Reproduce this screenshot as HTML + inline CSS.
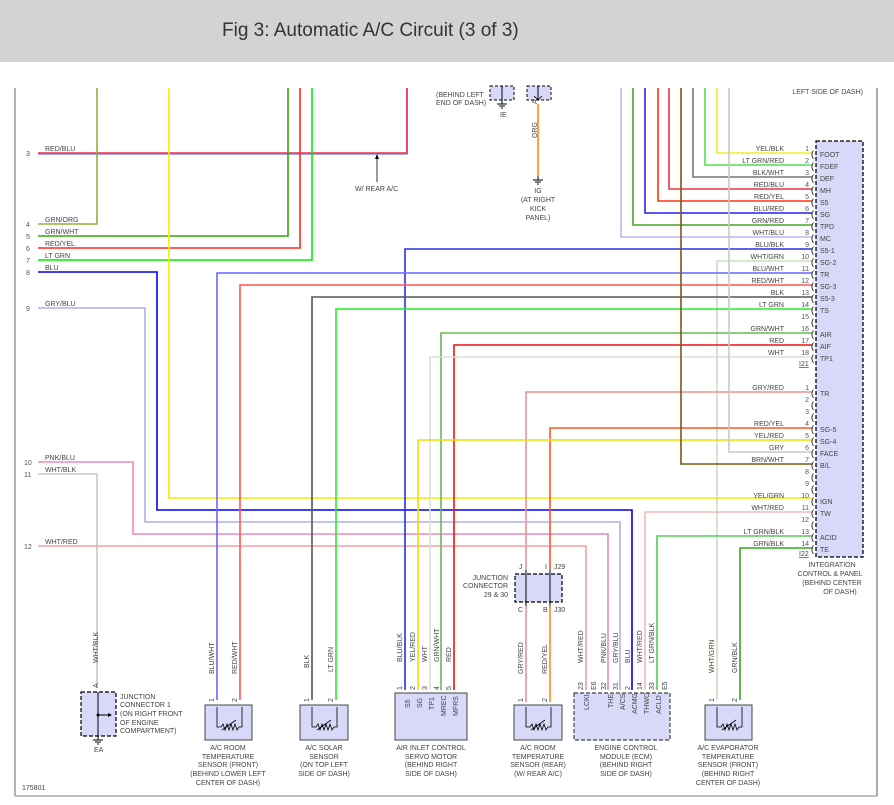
<!DOCTYPE html>
<html><head><meta charset="utf-8"><style>
html,body{margin:0;padding:0;background:#fff;width:894px;height:805px;overflow:hidden}
svg{display:block;font-family:"Liberation Sans",Arial,sans-serif}
.t{font-size:7px;fill:#444}
.n{font-size:7px;fill:#555}
.w{fill:none;stroke-width:1.6}
</style></head><body>
<svg width="894" height="805" viewBox="0 0 894 805">
<rect x="0" y="0" width="894" height="62" fill="#d3d3d3"/>
<text x="222" y="36" font-size="19" fill="#333">Fig 3: Automatic A/C Circuit (3 of 3)</text>
<!-- frame -->
<line x1="15" y1="88" x2="15" y2="796" stroke="#999" stroke-width="1.5"/>
<line x1="15" y1="796" x2="877" y2="796" stroke="#aaa" stroke-width="1.5"/>
<line x1="877" y1="88" x2="877" y2="796" stroke="#555" stroke-width="1"/>

<!-- left wires -->
<polyline class="w" stroke="#8c8cff" points="38,154 407,154 407,88"/>
<polyline class="w" stroke="#ee3344" stroke-width="1" points="38,153 407,153 407,88"/>
<polyline class="w" stroke="#8db33a" points="38,224 97,224 97,88"/>
<polyline class="w" stroke="#33aa00" points="38,236 288,236 288,88"/>
<polyline class="w" stroke="#ff2a1a" points="38,248 300,248 300,88"/>
<polyline class="w" stroke="#00ee00" points="38,260 312,260 312,88"/>
<polyline class="w" stroke="#0000ee" points="38,272 157,272 157,510 632,510 632,690"/>
<polyline class="w" stroke="#b0b0e8" points="38,308 145,308 145,522 620,522 620,690"/>
<polyline class="w" stroke="#ee88bb" points="38,462 133,462 133,534 608,534 608,690"/>
<polyline class="w" stroke="#c8c8c8" points="38,474 97,474 97,688"/>
<polyline class="w" stroke="#f0a0a0" stroke-width="1.2" points="38,546 586,546 586,690"/>
<polyline class="w" stroke="#f0f000" points="169,88 169,498 812,498"/>

<!-- right verticals I21 -->
<polyline class="w" stroke="#eeee22" points="717,88 717,153 812,153"/>
<polyline class="w" stroke="#55dd55" points="705,88 705,165 812,165"/>
<polyline class="w" stroke="#777" points="693,88 693,177 812,177"/>
<polyline class="w" stroke="#ee3344" points="669,88 669,189 812,189"/>
<polyline class="w" stroke="#ff3311" points="658,88 658,201 812,201"/>
<polyline class="w" stroke="#2222ee" points="645,88 645,213 812,213"/>
<polyline class="w" stroke="#44aa22" points="633,88 633,225 812,225"/>
<polyline class="w" stroke="#b8b8ee" points="621,88 621,237 812,237"/>
<polyline class="w" stroke="#2233dd" points="405,690 405,249 812,249"/>
<polyline class="w" stroke="#c8e0c0" points="717,700 717,261 812,261"/>
<polyline class="w" stroke="#6666ff" points="217,700 217,273 812,273"/>
<polyline class="w" stroke="#ff5555" points="240,700 240,285 812,285"/>
<polyline class="w" stroke="#555" points="312,700 312,297 812,297"/>
<polyline class="w" stroke="#22ee22" points="336,700 336,309 812,309"/>
<polyline class="w" stroke="#66bb55" points="441,690 441,333 812,333"/>
<polyline class="w" stroke="#ee1111" points="454,690 454,345 812,345"/>
<polyline class="w" stroke="#dddddd" points="430,690 430,357 812,357"/>
<!-- I22 -->
<polyline class="w" stroke="#f09090" points="526,570 526,392 812,392"/>
<polyline class="w" stroke="#ff5522" points="550,570 550,428 812,428"/>
<polyline class="w" stroke="#eedd00" points="418,690 418,440 812,440"/>
<polyline class="w" stroke="#c8c8c8" points="729,88 729,452 812,452"/>
<polyline class="w" stroke="#7a5a10" points="681,88 681,464 812,464"/>
<polyline class="w" stroke="#f4b8b8" points="645,690 645,512 812,512"/>
<polyline class="w" stroke="#55cc55" points="657,690 657,536 812,536"/>
<polyline class="w" stroke="#33aa22" points="740,700 740,548 812,548"/>
<!-- junction 29/30 lower wires -->
<line x1="526" y1="606" x2="526" y2="702" stroke="#f09090" stroke-width="1.6"/>
<line x1="550" y1="606" x2="550" y2="702" stroke="#ff8822" stroke-width="1.6"/>
<!-- ORG top -->
<line x1="538" y1="104" x2="538" y2="176" stroke="#ff8800" stroke-width="1.6"/>

<!-- W/REAR A/C arrow -->
<line x1="377" y1="182" x2="377" y2="157" stroke="#000" stroke-width="0.8"/>
<polygon points="377,154 375,159 379,159" fill="#000"/>
<text class="t" x="355" y="191">W/ REAR A/C</text>

<!-- left labels -->
<g class="n" fill="#556">
<text x="26" y="156">3</text><text x="26" y="227">4</text><text x="26" y="239">5</text><text x="26" y="251">6</text><text x="26" y="263">7</text><text x="26" y="275">8</text><text x="26" y="311">9</text><text x="24" y="465">10</text><text x="24" y="477">11</text><text x="24" y="549">12</text>
</g>
<g class="t">
<text x="45" y="151">RED/BLU</text><text x="45" y="222">GRN/ORG</text><text x="45" y="234">GRN/WHT</text><text x="45" y="246">RED/YEL</text><text x="45" y="258">LT GRN</text><text x="45" y="270">BLU</text><text x="45" y="306">GRY/BLU</text><text x="45" y="460">PNK/BLU</text><text x="45" y="472">WHT/BLK</text><text x="45" y="544">WHT/RED</text>
</g>

<!-- top connectors -->
<g stroke="#000" stroke-dasharray="3,2" fill="#d8d8f8" stroke-width="1">
<rect x="490" y="86" width="24" height="14"/><rect x="527" y="86" width="24" height="14"/>
</g>
<line x1="502" y1="86" x2="502" y2="100" stroke="#000"/>
<line x1="538" y1="86" x2="538" y2="100" stroke="#000"/>
<path d="M534,96 L538,100 L542,96" fill="none" stroke="#000" stroke-width="0.8"/>
<path d="M502,100 v4 M497,104 h10 M499,106 h6 M501,108 h2" stroke="#000" stroke-width="1"/>
<text class="t" x="436" y="97">(BEHIND LEFT</text><text class="t" x="436" y="105">END OF DASH)</text>
<text class="t" x="500" y="117">IE</text>
<text class="t" transform="translate(537,104) rotate(-90)">A</text>
<text class="t" transform="translate(537,138) rotate(-90)">ORG</text>
<path d="M538,176 v4 M533,180 h10 M535,182 h6 M537,184 h2" stroke="#000" stroke-width="1"/>
<g class="t" text-anchor="middle"><text x="538" y="193">IG</text><text x="538" y="202">(AT RIGHT</text><text x="538" y="211">KICK</text><text x="538" y="220">PANEL)</text></g>
<text class="t" x="863" y="94" text-anchor="end">LEFT SIDE OF DASH)</text>

<!-- integration connector -->
<rect x="816" y="141" width="47" height="416" fill="#d8d8f8" stroke="#000" stroke-dasharray="4,2" stroke-width="1.3"/>
<g class="t" text-anchor="end">
<text x="784" y="151">YEL/BLK</text><text x="784" y="163">LT GRN/RED</text><text x="784" y="175">BLK/WHT</text><text x="784" y="187">RED/BLU</text><text x="784" y="199">RED/YEL</text><text x="784" y="211">BLU/RED</text><text x="784" y="223">GRN/RED</text><text x="784" y="235">WHT/BLU</text><text x="784" y="247">BLU/BLK</text><text x="784" y="259">WHT/GRN</text><text x="784" y="271">BLU/WHT</text><text x="784" y="283">RED/WHT</text><text x="784" y="295">BLK</text><text x="784" y="307">LT GRN</text><text x="784" y="331">GRN/WHT</text><text x="784" y="343">RED</text><text x="784" y="355">WHT</text>
<text x="784" y="390">GRY/RED</text><text x="784" y="426">RED/YEL</text><text x="784" y="438">YEL/RED</text><text x="784" y="450">GRY</text><text x="784" y="462">BRN/WHT</text><text x="784" y="498">YEL/GRN</text><text x="784" y="510">WHT/RED</text><text x="784" y="534">LT GRN/BLK</text><text x="784" y="546">GRN/BLK</text>
</g>
<g class="n" text-anchor="end">
<text x="809" y="151">1</text><text x="809" y="163">2</text><text x="809" y="175">3</text><text x="809" y="187">4</text><text x="809" y="199">5</text><text x="809" y="211">6</text><text x="809" y="223">7</text><text x="809" y="235">8</text><text x="809" y="247">9</text><text x="809" y="259">10</text><text x="809" y="271">11</text><text x="809" y="283">12</text><text x="809" y="295">13</text><text x="809" y="307">14</text><text x="809" y="319">15</text><text x="809" y="331">16</text><text x="809" y="343">17</text><text x="809" y="355">18</text>
<text x="809" y="390">1</text><text x="809" y="402">2</text><text x="809" y="414">3</text><text x="809" y="426">4</text><text x="809" y="438">5</text><text x="809" y="450">6</text><text x="809" y="462">7</text><text x="809" y="474">8</text><text x="809" y="486">9</text><text x="809" y="498">10</text><text x="809" y="510">11</text><text x="809" y="522">12</text><text x="809" y="534">13</text><text x="809" y="546">14</text>
</g>
<g font-size="9" fill="#000">
<text x="811" y="157">(</text><text x="811" y="169">(</text><text x="811" y="181">(</text><text x="811" y="193">(</text><text x="811" y="205">(</text><text x="811" y="217">(</text><text x="811" y="229">(</text><text x="811" y="241">(</text><text x="811" y="253">(</text><text x="811" y="265">(</text><text x="811" y="277">(</text><text x="811" y="289">(</text><text x="811" y="301">(</text><text x="811" y="313">(</text><text x="811" y="325">(</text><text x="811" y="337">(</text><text x="811" y="349">(</text><text x="811" y="361">(</text>
<text x="811" y="396">(</text><text x="811" y="408">(</text><text x="811" y="420">(</text><text x="811" y="432">(</text><text x="811" y="444">(</text><text x="811" y="456">(</text><text x="811" y="468">(</text><text x="811" y="480">(</text><text x="811" y="492">(</text><text x="811" y="504">(</text><text x="811" y="516">(</text><text x="811" y="528">(</text><text x="811" y="540">(</text><text x="811" y="552">(</text>
</g>
<g class="t" fill="#333">
<text x="820" y="157">FOOT</text><text x="820" y="169">FDEF</text><text x="820" y="181">DEF</text><text x="820" y="193">MH</text><text x="820" y="205">S5</text><text x="820" y="217">SG</text><text x="820" y="229">TPD</text><text x="820" y="241">MC</text><text x="820" y="253">S5-1</text><text x="820" y="265">SG-2</text><text x="820" y="277">TR</text><text x="820" y="289">SG-3</text><text x="820" y="301">S5-3</text><text x="820" y="313">TS</text><text x="820" y="337">AIR</text><text x="820" y="349">AIF</text><text x="820" y="361">TP1</text>
<text x="820" y="396">TR</text><text x="820" y="432">SG-5</text><text x="820" y="444">SG-4</text><text x="820" y="456">FACE</text><text x="820" y="468">B/L</text><text x="820" y="504">IGN</text><text x="820" y="516">TW</text><text x="820" y="540">ACID</text><text x="820" y="552">TE</text>
</g>
<text class="t" x="799" y="366" text-decoration="underline">I21</text>
<text class="t" x="799" y="556" text-decoration="underline">I22</text>
<g class="t" text-anchor="middle"><text x="832" y="567">INTEGRATION</text><text x="830" y="576">CONTROL &amp; PANEL</text><text x="832" y="585">(BEHIND CENTER</text><text x="840" y="594">OF DASH)</text></g>

<!-- junction 29 & 30 -->
<rect x="515" y="574" width="47" height="28" fill="#d8d8f8" stroke="#000" stroke-dasharray="4,2" stroke-width="1.2"/>
<line x1="526" y1="570" x2="526" y2="606" stroke="#000"/><line x1="550" y1="570" x2="550" y2="606" stroke="#000"/>
<g class="t"><text x="519" y="569">J</text><text x="545" y="569">I</text><text x="554" y="569">J29</text><text x="518" y="612">C</text><text x="543" y="612">B</text><text x="554" y="612">J30</text></g>
<g class="t" text-anchor="end"><text x="508" y="580">JUNCTION</text><text x="508" y="588">CONNECTOR</text><text x="508" y="597">29 &amp; 30</text></g>

<!-- Junction connector 1 -->
<rect x="81" y="692" width="35" height="44" fill="#d8d8f8" stroke="#000" stroke-dasharray="4,2" stroke-width="1.2"/>
<line x1="98" y1="692" x2="98" y2="740" stroke="#000"/><line x1="98" y1="715" x2="110" y2="715" stroke="#000"/>
<polygon points="112,715 108,713 108,717" fill="#000"/><circle cx="98" cy="715" r="1.5"/>
<path d="M98,740 M93,740 h10 M95,742 h6 M97,744 h2" stroke="#000"/>
<text class="t" x="94" y="752">EA</text>
<text class="t" transform="translate(98,688) rotate(-90)">A</text>
<text class="t" transform="translate(98,663) rotate(-90)">WHT/BLK</text>
<g class="t"><text x="120" y="699">JUNCTION</text><text x="120" y="707">CONNECTOR 1</text><text x="120" y="716">(ON RIGHT FRONT</text><text x="120" y="725">OF ENGINE</text><text x="120" y="733">COMPARTMENT)</text></g>

<!-- sensors -->
<g fill="#d8d8f8" stroke="#444" stroke-width="1">
<rect x="205" y="705" width="47" height="35"/><rect x="300" y="705" width="48" height="35"/><rect x="514" y="705" width="48" height="35"/><rect x="705" y="705" width="47" height="35"/><rect x="395" y="693" width="72" height="47"/>
</g>
<rect x="574" y="693" width="96" height="47" fill="#d8d8f8" stroke="#444" stroke-dasharray="4,2" stroke-width="1.2"/>
<g fill="none" stroke="#000" stroke-width="0.8">
<path d="M217,707 v20 l4,0 l2,-3 l2,6 l2,-6 l2,6 l2,-6 l2,6 l2,-6 l2,6 l2,-3 h3 v-20 M222,730 l14,-10"/>
<path d="M312,707 v20 l4,0 l2,-3 l2,6 l2,-6 l2,6 l2,-6 l2,6 l2,-6 l2,6 l2,-3 h3 v-20 M317,730 l14,-10"/>
<path d="M526,707 v20 l4,0 l2,-3 l2,6 l2,-6 l2,6 l2,-6 l2,6 l2,-6 l2,6 l2,-3 h3 v-20 M531,730 l14,-10"/>
<path d="M717,707 v20 l4,0 l2,-3 l2,6 l2,-6 l2,6 l2,-6 l2,6 l2,-6 l2,6 l2,-3 h3 v-20 M722,730 l14,-10"/>
</g>
<g class="t">
<text transform="translate(214,674) rotate(-90)">BLU/WHT</text><text transform="translate(237,674) rotate(-90)">RED/WHT</text>
<text transform="translate(309,668) rotate(-90)">BLK</text><text transform="translate(333,672) rotate(-90)">LT GRN</text>
<text transform="translate(402,662) rotate(-90)">BLU/BLK</text><text transform="translate(415,662) rotate(-90)">YEL/RED</text><text transform="translate(427,662) rotate(-90)">WHT</text><text transform="translate(439,662) rotate(-90)">GRN/WHT</text><text transform="translate(451,662) rotate(-90)">RED</text>
<text transform="translate(523,674) rotate(-90)">GRY/RED</text><text transform="translate(547,674) rotate(-90)">RED/YEL</text>
<text transform="translate(583,663) rotate(-90)">WHT/RED</text><text transform="translate(606,663) rotate(-90)">PNK/BLU</text><text transform="translate(618,663) rotate(-90)">GRY/BLU</text><text transform="translate(630,663) rotate(-90)">BLU</text><text transform="translate(642,663) rotate(-90)">WHT/RED</text><text transform="translate(654,663) rotate(-90)">LT GRN/BLK</text>
<text transform="translate(714,673) rotate(-90)">WHT/GRN</text><text transform="translate(737,673) rotate(-90)">GRN/BLK</text>
<text transform="translate(214,702) rotate(-90)">1</text><text transform="translate(237,702) rotate(-90)">2</text><text transform="translate(309,702) rotate(-90)">1</text><text transform="translate(333,702) rotate(-90)">2</text>
<text transform="translate(523,702) rotate(-90)">1</text><text transform="translate(547,702) rotate(-90)">2</text><text transform="translate(714,702) rotate(-90)">1</text><text transform="translate(737,702) rotate(-90)">2</text>
<text transform="translate(402,690) rotate(-90)">1</text><text transform="translate(415,690) rotate(-90)">2</text><text transform="translate(427,690) rotate(-90)">3</text><text transform="translate(439,690) rotate(-90)">4</text><text transform="translate(451,690) rotate(-90)">5</text>
<text transform="translate(583,690) rotate(-90)">23</text><text transform="translate(596,690) rotate(-90)">E6</text><text transform="translate(606,690) rotate(-90)">32</text><text transform="translate(618,690) rotate(-90)">31</text><text transform="translate(630,690) rotate(-90)">2</text><text transform="translate(642,690) rotate(-90)">14</text><text transform="translate(654,690) rotate(-90)">33</text><text transform="translate(667,690) rotate(-90)">E5</text>
<text transform="translate(410,708) rotate(-90)">S5</text><text transform="translate(422,708) rotate(-90)">SG</text><text transform="translate(434,710) rotate(-90)">TP1</text><text transform="translate(446,716) rotate(-90)">MREC</text><text transform="translate(458,716) rotate(-90)">MFRS</text>
<text transform="translate(589,710) rotate(-90)">LCKI</text><text transform="translate(613,708) rotate(-90)">THE</text><text transform="translate(625,710) rotate(-90)">A/CS</text><text transform="translate(637,714) rotate(-90)">ACMG</text><text transform="translate(649,714) rotate(-90)">THWO</text><text transform="translate(661,714) rotate(-90)">ACLD</text>
</g>
<g class="t" text-anchor="middle">
<text x="228" y="750">A/C ROOM</text><text x="228" y="759">TEMPERATURE</text><text x="228" y="767">SENSOR (FRONT)</text><text x="228" y="776">(BEHIND LOWER LEFT</text><text x="228" y="785">CENTER OF DASH)</text>
<text x="324" y="750">A/C SOLAR</text><text x="324" y="759">SENSOR</text><text x="324" y="767">(ON TOP LEFT</text><text x="324" y="776">SIDE OF DASH)</text>
<text x="431" y="750">AIR INLET CONTROL</text><text x="431" y="759">SERVO MOTOR</text><text x="431" y="767">(BEHIND RIGHT</text><text x="431" y="776">SIDE OF DASH)</text>
<text x="538" y="750">A/C ROOM</text><text x="538" y="759">TEMPERATURE</text><text x="538" y="767">SENSOR (REAR)</text><text x="538" y="776">(W/ REAR A/C)</text>
<text x="626" y="750">ENGINE CONTROL</text><text x="626" y="759">MODULE (ECM)</text><text x="626" y="767">(BEHIND RIGHT</text><text x="626" y="776">SIDE OF DASH)</text>
<text x="728" y="750">A/C EVAPORATOR</text><text x="728" y="759">TEMPERATURE</text><text x="728" y="767">SENSOR (FRONT)</text><text x="728" y="776">(BEHIND RIGHT</text><text x="728" y="785">CENTER OF DASH)</text>
</g>
<text class="t" x="22" y="790">175801</text>
</svg>
</body></html>
